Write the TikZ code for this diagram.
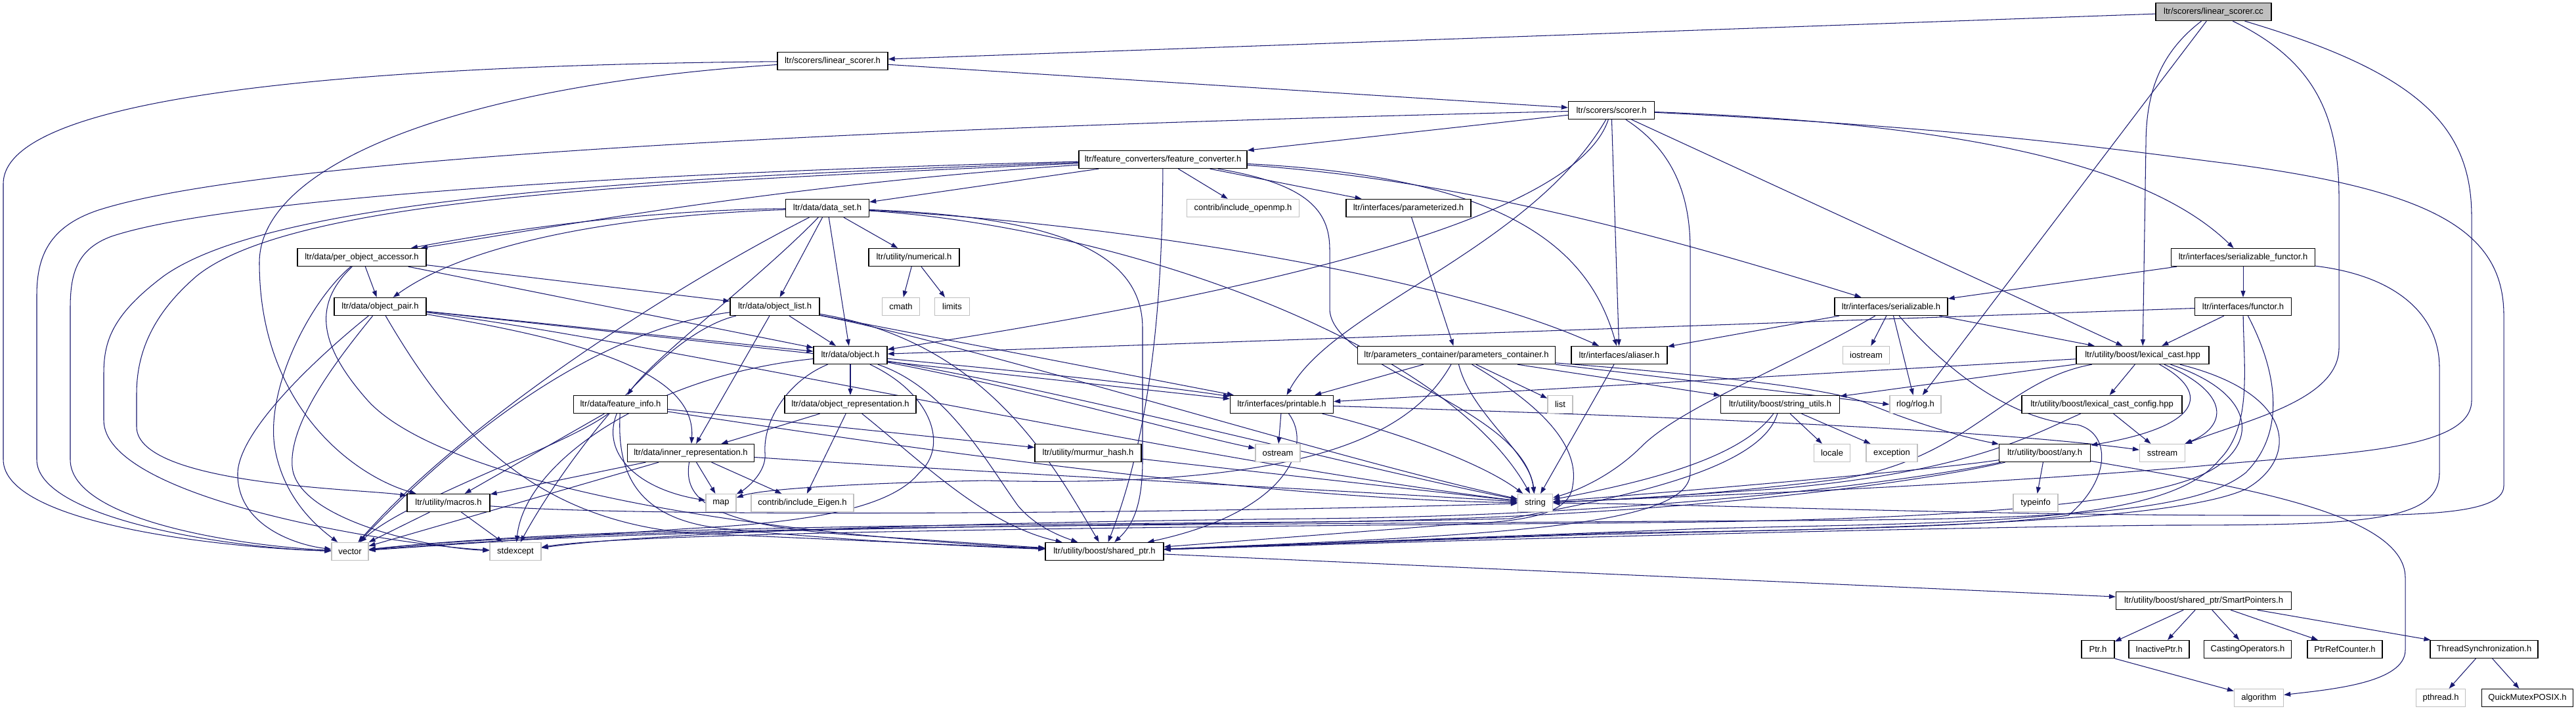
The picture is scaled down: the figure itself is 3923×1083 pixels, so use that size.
\documentclass[tikz,border=0pt]{standalone}
\usepackage{fontspec}
\setmainfont{Liberation Sans}
\usetikzlibrary{arrows.meta}
\definecolor{eb}{HTML}{191970}
\definecolor{gb}{HTML}{BFBFBF}
\pgfdeclarelayer{bglayer}
\pgfdeclarelayer{edgelayer}
\pgfsetlayers{bglayer,edgelayer,main}
\begin{document}
\begin{tikzpicture}[x=1pt,y=-1pt,
  box/.style={draw=black,line width=1.3pt,fill=white,minimum height=27pt,inner xsep=5pt,inner ysep=0pt,font={\fontsize{13}{15}\selectfont}},
  gbox/.style={box,draw=gb},
  edg/.style={draw=eb,line width=1.05pt,-{Triangle[length=10pt,width=7pt]}}]
\useasboundingbox (0,0) rectangle (3923,1083);
\begin{pgfonlayer}{bglayer}
\fill[white] (0,0) rectangle (3923,1083);
\end{pgfonlayer}
% nodes
\node[box,fill=gb,minimum width=176pt] (cc) at (3371,18) {ltr/scorers/linear\_scorer.cc};
\node[box,minimum width=168pt] (lsh) at (1268,93) {ltr/scorers/linear\_scorer.h};
\node[box,minimum width=131pt] (scorer) at (2454,168) {ltr/scorers/scorer.h};
\node[box,minimum width=256pt] (fconv) at (1771,243) {ltr/feature\_converters/feature\_converter.h};
\node[box,minimum width=127pt] (dataset) at (1260,317) {ltr/data/data\_set.h};
\node[gbox,minimum width=171pt] (openmp) at (1893,317) {contrib/include\_openmp.h};
\node[box,minimum width=190pt] (param) at (2145,317) {ltr/interfaces/parameterized.h};
\node[box,minimum width=196pt] (poa) at (551,392) {ltr/data/per\_object\_accessor.h};
\node[box,minimum width=138pt] (numerical) at (1392,392) {ltr/utility/numerical.h};
\node[box,minimum width=219pt] (sfunctor) at (3416,392) {ltr/interfaces/serializable\_functor.h};
\node[box,minimum width=140pt] (opair) at (579,467) {ltr/data/object\_pair.h};
\node[gbox,minimum width=57pt] (cmath) at (1372,467) {cmath};
\node[gbox,minimum width=53pt] (limits) at (1450,467) {limits};
\node[box,minimum width=136pt] (olist) at (1180,467) {ltr/data/object\_list.h};
\node[box,minimum width=172pt] (serializable) at (2880,467) {ltr/interfaces/serializable.h};
\node[box,minimum width=147pt] (functor) at (3416,467) {ltr/interfaces/functor.h};
\node[box,minimum width=112pt] (object) at (1295,541) {ltr/data/object.h};
\node[box,minimum width=301pt] (pc) at (2218,541) {ltr/parameters\_container/parameters\_container.h};
\node[box,minimum width=146pt] (aliaser) at (2466,541) {ltr/interfaces/aliaser.h};
\node[gbox,minimum width=71pt] (iostream) at (2842,541) {iostream};
\node[box,minimum width=202pt] (lcast) at (3263,541) {ltr/utility/boost/lexical\_cast.hpp};
\node[box,minimum width=143pt] (finfo) at (945,616) {ltr/data/feature\_info.h};
\node[box,minimum width=200pt] (orep) at (1295,616) {ltr/data/object\_representation.h};
\node[box,minimum width=157pt] (printable) at (1952,616) {ltr/interfaces/printable.h};
\node[gbox,minimum width=38pt] (list) at (2376,616) {list};
\node[box,minimum width=181pt] (sutils) at (2711,616) {ltr/utility/boost/string\_utils.h};
\node[gbox,minimum width=78pt] (rlog) at (2917,616) {rlog/rlog.h};
\node[box,minimum width=244pt] (lcconf) at (3201,616) {ltr/utility/boost/lexical\_cast\_config.hpp};
\node[box,minimum width=193pt] (irep) at (1052,690) {ltr/data/inner\_representation.h};
\node[box,minimum width=162pt] (murmur) at (1657,690) {ltr/utility/murmur\_hash.h};
\node[gbox,minimum width=68pt] (ostream) at (1946,690) {ostream};
\node[gbox,minimum width=55pt] (locale) at (2790,690) {locale};
\node[gbox,minimum width=78pt] (exception) at (2881,690) {exception};
\node[box,minimum width=139pt] (any) at (3114,690) {ltr/utility/boost/any.h};
\node[gbox,minimum width=69pt] (sstream) at (3293,690) {sstream};
\node[box,minimum width=126pt] (macros) at (683,766) {ltr/utility/macros.h};
\node[gbox,minimum width=46pt] (map) at (1098,766) {map};
\node[gbox,minimum width=156pt] (eigen) at (1222,766) {contrib/include\_Eigen.h};
\node[gbox,minimum width=53pt] (string) at (2338,766) {string};
\node[gbox,minimum width=68pt] (typeinfo) at (3100,766) {typeinfo};
\node[gbox,minimum width=56pt] (vector) at (533,840) {vector};
\node[gbox,minimum width=78pt] (stdexcept) at (785,840) {stdexcept};
\node[box,minimum width=180pt] (sharedptr) at (1682,840) {ltr/utility/boost/shared\_ptr.h};
\node[box,minimum width=267pt] (smartptrs) at (3356,915) {ltr/utility/boost/shared\_ptr/SmartPointers.h};
\node[box,minimum width=50pt] (ptrh) at (3195,989) {Ptr.h};
\node[box,minimum width=92pt] (inactive) at (3288,989) {InactivePtr.h};
\node[box,minimum width=133pt] (casting) at (3423,989) {CastingOperators.h};
\node[box,minimum width=114pt] (refcount) at (3571,989) {PtrRefCounter.h};
\node[box,minimum width=164pt] (threadsync) at (3783,989) {ThreadSynchronization.h};
\node[gbox,minimum width=75pt] (algorithm) at (3440,1063) {algorithm};
\node[gbox,minimum width=75pt] (pthread) at (3717,1063) {pthread.h};
\node[box,minimum width=139pt] (quickmutex) at (3849,1063) {QuickMutexPOSIX.h};
% edges
\begin{pgfonlayer}{edgelayer}
% cc
\draw[edg] (cc) -- (lsh);
\draw[edg] (cc) .. controls (3290,80) and (3268,140) .. (3268,220) -- (lcast);
\draw[edg] (cc) -- (rlog);
\draw[edg] (cc) .. controls (3520,90) and (3562,170) .. (3562,300) -- (3562,530) .. controls (3562,610) and (3420,640) .. (sstream);
\draw[edg] (cc) .. controls (3680,110) and (3764,190) .. (3764,330) -- (3764,610) .. controls (3764,690) and (3550,690) .. (3350,710) .. controls (3000,740) and (2600,755) .. (string);
% lsh
\draw[edg] (lsh) -- (scorer);
\draw[edg] (lsh) .. controls (500,100) and (5,150) .. (5,280) -- (5,700) .. controls (5,800) and (350,835) .. (vector);
\draw[edg] (lsh) .. controls (700,130) and (395,250) .. (395,400) .. controls (395,620) and (540,725) .. (macros);
% scorer
\draw[edg] (scorer) -- (fconv);
\draw[edg] (scorer) .. controls (1300,195) and (400,240) .. (150,320) .. controls (75,345) and (56,390) .. (56,450) -- (56,700) .. controls (56,790) and (350,835) .. (vector);
\draw[edg] (scorer) .. controls (2400,330) and (1950,440) .. (object);
\draw[edg] (scorer) .. controls (2330,380) and (2030,470) .. (printable);
\draw[edg] (scorer) -- (aliaser);
\draw[edg] (scorer) .. controls (2550,230) and (2574,300) .. (2574,380) -- (2574,720) .. controls (2574,800) and (2300,815) .. (sharedptr);
\draw[edg] (scorer) -- (lcast);
\draw[edg] (scorer) .. controls (2900,185) and (3250,230) .. (sfunctor);
\draw[edg] (scorer) .. controls (3000,195) and (3200,225) .. (3400,250) .. controls (3700,290) and (3813,350) .. (3813,480) -- (3813,740) .. controls (3813,790) and (3650,785) .. (3450,785) .. controls (3000,785) and (2600,768) .. (string);
% fconv
\draw[edg] (fconv) -- (dataset);
\draw[edg] (fconv) -- (openmp);
\draw[edg] (fconv) -- (param);
\draw[edg] (fconv) .. controls (2250,275) and (2600,380) .. (serializable);
\draw[edg] (fconv) .. controls (2300,270) and (2420,380) .. (aliaser);
\draw[edg] (fconv) .. controls (1990,280) and (2025,320) .. (2025,380) -- (2025,470) .. controls (2025,560) and (2320,620) .. (string);
\draw[edg] (fconv) .. controls (1770,420) and (1760,640) .. (sharedptr);
\draw[edg] (fconv) .. controls (1200,280) and (850,345) .. (poa);
\draw[edg] (fconv) .. controls (1000,262) and (350,300) .. (170,360) .. controls (115,380) and (107,420) .. (107,470) -- (107,700) .. controls (107,790) and (350,830) .. (vector);
\draw[edg] (fconv) .. controls (1000,270) and (420,300) .. (250,420) .. controls (170,480) and (158,520) .. (158,570) -- (158,640) .. controls (158,760) and (600,830) .. (stdexcept);
\draw[edg] (fconv) .. controls (1000,278) and (450,300) .. (300,420) .. controls (230,480) and (208,540) .. (208,600) -- (208,650) .. controls (208,740) and (560,745) .. (macros);
% dataset
\draw[edg] (dataset) .. controls (1000,320) and (800,345) .. (poa);
\draw[edg] (dataset) .. controls (900,330) and (700,380) .. (opair);
\draw[edg] (dataset) -- (numerical);
\draw[edg] (dataset) -- (olist);
\draw[edg] (dataset) -- (object);
\draw[edg] (dataset) .. controls (1150,430) and (1000,540) .. (finfo);
\draw[edg] (dataset) .. controls (1700,340) and (2200,420) .. (aliaser);
\draw[edg] (dataset) .. controls (1700,345) and (2200,520) .. (string);
\draw[edg] (dataset) .. controls (1600,330) and (1740,380) .. (1740,500) -- (1740,700) .. controls (1740,770) and (1725,800) .. (sharedptr);
\draw[edg] (dataset) .. controls (1000,450) and (700,650) .. (vector);
% numerical
\draw[edg] (numerical) -- (cmath);
\draw[edg] (numerical) -- (limits);
% poa
\draw[edg] (poa) -- (opair);
\draw[edg] (poa) -- (olist);
\draw[edg] (poa) -- (object);
\draw[edg] (poa) .. controls (470,460) and (400,600) .. (420,690) .. controls (435,760) and (480,800) .. (vector);
\draw[edg] (poa) .. controls (480,460) and (480,520) .. (560,610) .. controls (650,710) and (1000,805) .. (sharedptr);
% opair
\draw[edg] (opair) -- (object);
\draw[edg] (opair) -- (printable);
\draw[edg] (opair) .. controls (1000,520) and (1800,700) .. (string);
\draw[edg] (opair) .. controls (900,520) and (1060,570) .. (irep);
\draw[edg] (opair) .. controls (500,530) and (365,650) .. (362,720) .. controls (360,800) and (450,830) .. (vector);
\draw[edg] (opair) .. controls (520,540) and (440,640) .. (445,710) .. controls (450,790) and (650,835) .. (stdexcept);
\draw[edg] (opair) .. controls (680,640) and (800,790) .. (1050,812) -- (sharedptr);
% olist
\draw[edg] (olist) -- (object);
\draw[edg] (olist) -- (irep);
\draw[edg] (olist) -- (printable);
\draw[edg] (olist) .. controls (1500,520) and (1600,700) .. (sharedptr);
\draw[edg] (olist) .. controls (1500,530) and (2000,690) .. (string);
\draw[edg] (olist) .. controls (1000,490) and (800,560) .. (vector);
\draw[edg] (olist) .. controls (1000,510) and (850,720) .. (stdexcept);
% object
\draw[edg] (object) -- (orep);
\draw[edg] (object) .. controls (1200,580) and (1162,640) .. (1165,690) .. controls (1168,720) and (1135,745) .. (map);
\draw[edg] (object) .. controls (1440,590) and (1500,700) .. (1550,770) .. controls (1575,800) and (1610,815) .. (sharedptr);
\draw[edg] (object) .. controls (1420,600) and (1445,680) .. (1400,720) .. controls (1360,770) and (1250,795) .. (1050,805) -- (vector);
\draw[edg] (object) .. controls (1000,570) and (800,700) .. (stdexcept);
\draw[edg] (object) .. controls (1500,560) and (1750,585) .. (printable);
\draw[edg] (object) .. controls (1600,590) and (2100,720) .. (string);
\draw[edg] (object) .. controls (1600,600) and (1800,660) .. (ostream);
% orep
\draw[edg] (orep) -- (irep);
\draw[edg] (orep) -- (eigen);
\draw[edg] (orep) .. controls (1400,700) and (1500,800) .. (sharedptr);
% irep
\draw[edg] (irep) -- (map);
\draw[edg] (irep) -- (eigen);
\draw[edg] (irep) -- (macros);
\draw[edg] (irep) -- (vector);
\draw[edg] (irep) .. controls (1040,760) and (1080,800) .. (1300,815) .. controls (1450,825) and (1550,832) .. (sharedptr);
\draw[edg] (irep) .. controls (1500,720) and (2100,750) .. (string);
% finfo
\draw[edg] (finfo) -- (macros);
\draw[edg] (finfo) .. controls (915,690) and (970,745) .. (map);
\draw[edg] (finfo) .. controls (860,680) and (620,760) .. (vector);
\draw[edg] (finfo) -- (murmur);
\draw[edg] (finfo) .. controls (1300,670) and (1900,760) .. (string);
\draw[edg] (finfo) .. controls (940,710) and (960,790) .. (1100,805) .. controls (1300,825) and (1500,833) .. (sharedptr);
% macros
\draw[edg] (macros) -- (vector);
\draw[edg] (macros) -- (stdexcept);
\draw[edg] (macros) .. controls (1000,790) and (1900,780) .. (string);
% murmur
\draw[edg] (murmur) -- (string);
% printable
\draw[edg] (printable) -- (ostream);
\draw[edg] (printable) .. controls (2100,650) and (2250,700) .. (string);
\draw[edg] (printable) .. controls (2000,680) and (1960,780) .. (sharedptr);
\draw[edg] (printable) .. controls (2400,630) and (3000,650) .. (sstream);
% param
\draw[edg] (param) -- (pc);
% pc
\draw[edg] (pc) -- (printable);
\draw[edg] (pc) .. controls (2150,660) and (2000,745) .. (1500,732) .. controls (1300,736) and (1160,745) .. (map);
\draw[edg] (pc) .. controls (2240,630) and (2330,690) .. (string);
\draw[edg] (pc) -- (list);
\draw[edg] (pc) -- (sutils);
\draw[edg] (pc.south east) -- (rlog.west);
\draw[edg] (pc) .. controls (2650,575) and (2800,595) .. (2845,615) .. controls (2930,650) and (3000,668) .. (any);
\draw[edg] (pc) .. controls (2300,590) and (2410,660) .. (2395,740) .. controls (2390,790) and (2300,795) .. (2200,800) -- (sharedptr);
% aliaser
\draw[edg] (aliaser) -- (string);
% serializable
\draw[edg] (serializable) -- (aliaser);
\draw[edg] (serializable) -- (iostream);
\draw[edg] (serializable) -- (rlog);
\draw[edg] (serializable) -- (lcast);
\draw[edg] (serializable) .. controls (2720,560) and (2560,620) .. (2500,680) .. controls (2460,720) and (2410,745) .. (string);
\draw[edg] (serializable) .. controls (2960,560) and (3060,640) .. (3164,647) .. controls (3215,660) and (3215,730) .. (3150,785) .. controls (3000,805) and (2700,808) .. (2450,812) -- (sharedptr);
% sfunctor
\draw[edg] (sfunctor) -- (serializable);
\draw[edg] (sfunctor) -- (functor);
\draw[edg] (sfunctor) .. controls (3650,420) and (3715,480) .. (3715,560) -- (3715,720) .. controls (3715,795) and (3600,800) .. (3300,800) .. controls (2800,805) and (2000,830) .. (sharedptr);
% functor
\draw[edg] (functor) -- (object);
\draw[edg] (functor) -- (lcast);
\draw[edg] (functor) .. controls (3417,560) and (3430,650) .. (3380,700) .. controls (3300,800) and (3000,795) .. (2600,805) -- (sharedptr);
\draw[edg] (functor) .. controls (3470,570) and (3480,660) .. (3420,720) .. controls (3320,800) and (3000,790) .. (2400,795) .. controls (1800,800) and (900,800) .. (vector);
% lcast
\draw[edg] (lcast) -- (lcconf);
\draw[edg] (lcast) .. controls (3370,600) and (3350,650) .. (any);
\draw[edg] (lcast) .. controls (3400,600) and (3390,650) .. (sstream);
\draw[edg] (lcast) -- (printable);
\draw[edg] (lcast) -- (sutils);
\draw[edg] (lcast) .. controls (3050,580) and (3000,700) .. (2800,730) .. controls (2600,755) and (2450,762) .. (string);
\draw[edg] (lcast) .. controls (3440,600) and (3440,680) .. (3360,720) .. controls (3250,775) and (2900,790) .. (2600,795) .. controls (2200,800) and (1000,805) .. (stdexcept);
\draw[edg] (lcast) .. controls (3500,600) and (3500,700) .. (3420,745) .. controls (3300,800) and (2800,805) .. (2400,815) -- (sharedptr);
% lcconf
\draw[edg] (lcconf) -- (sstream);
\draw[edg] (lcconf) .. controls (3100,660) and (3000,720) .. (2700,745) .. controls (2550,755) and (2450,762) .. (string);
% any
\draw[edg] (any) -- (typeinfo);
\draw[edg] (any) .. controls (3400,740) and (3663,780) .. (3663,880) -- (3663,990) .. controls (3663,1040) and (3550,1050) .. (algorithm);
\draw[edg] (any) .. controls (2950,715) and (2600,745) .. (string);
\draw[edg] (any) .. controls (2900,740) and (2500,790) .. (2000,795) .. controls (1500,800) and (900,800) .. (vector);
\draw[edg] (any) .. controls (2900,735) and (2500,785) .. (2000,790) .. controls (1500,795) and (1000,810) .. (stdexcept);
% sutils
\draw[edg] (sutils) -- (locale);
\draw[edg] (sutils) -- (exception);
\draw[edg] (sutils) .. controls (2650,700) and (2500,735) .. (string);
\draw[edg] (sutils) .. controls (2680,720) and (2450,760) .. (2300,790) .. controls (1900,800) and (1000,800) .. (vector);
% shared_ptr and below
\draw[edg] (sharedptr) -- (smartptrs);
\draw[edg] (smartptrs) -- (ptrh);
\draw[edg] (smartptrs) -- (inactive);
\draw[edg] (smartptrs) -- (casting);
\draw[edg] (smartptrs) -- (refcount);
\draw[edg] (smartptrs) -- (threadsync);
\draw[edg] (ptrh.south east) -- (algorithm);
\draw[edg] (threadsync) -- (pthread);
\draw[edg] (threadsync) -- (quickmutex);
\end{pgfonlayer}
\end{tikzpicture}
\end{document}
